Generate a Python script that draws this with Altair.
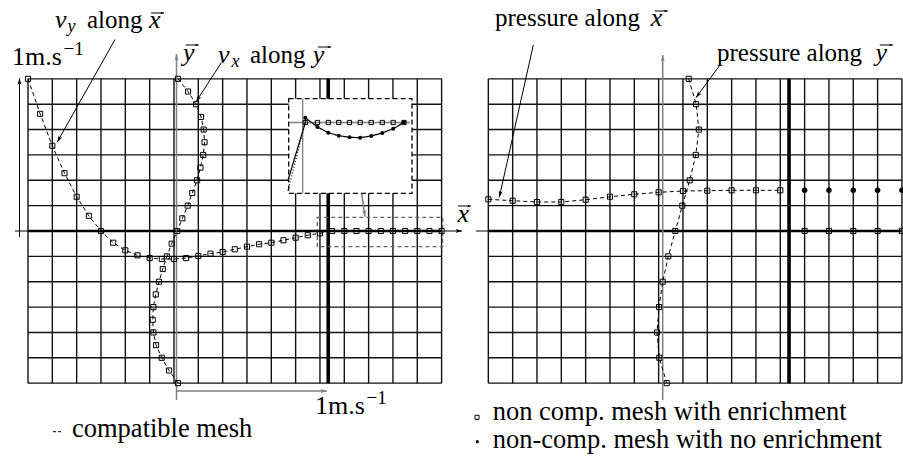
import math
import altair as alt
import pandas as pd

# ---------------- values ----------------
# Left panel: v_y sampled along x (positions in grid cells, values in m/s)
vy_x = [0, 0.5, 1, 1.5, 2, 2.5, 3, 3.5, 4, 4.5, 5, 5.5, 6, 6.5, 7, 7.5, 8, 8.5,
        9, 9.5, 10, 10.5, 11, 11.5, 12, 12.5, 13, 13.5, 14, 14.5, 15, 15.5, 16, 16.5, 17]
vy_val = [1.00, 0.77, 0.56, 0.38, 0.225, 0.10, 0.0, -0.077, -0.127, -0.16, -0.178,
          -0.184, -0.184, -0.178, -0.164, -0.149, -0.138, -0.12, -0.103, -0.087,
          -0.077, -0.061, -0.044, -0.028, -0.015, 0, 0, 0, 0, 0, 0, 0, 0, 0, 0]
# Left panel: v_x sampled along y (positions in grid cells, values in m/s)
vx_y = [6, 5.5, 5, 4.5, 4, 3.5, 3, 2.5, 2, 1.5, 1, 0.5, 0, -0.5, -1, -1.5, -2,
        -2.5, -3, -3.5, -4, -4.5, -5, -5.5, -6]
vx_val = [0.01, 0.079, 0.134, 0.168, 0.186, 0.192, 0.183, 0.164, 0.141, 0.108,
          0.077, 0.04, 0.005, -0.033, -0.066, -0.094, -0.12, -0.142, -0.158,
          -0.163, -0.158, -0.14, -0.101, -0.051, 0.01]
# Right panel: pressure along x (grid units)
px_x = [0, 1, 2, 3, 4, 5, 6, 7, 8, 9, 10, 11, 12]
px_val = [1.25, 1.195, 1.143, 1.143, 1.234, 1.352, 1.447, 1.526, 1.577, 1.589,
          1.605, 1.605, 1.605]
pr_x = [13, 14, 15, 16, 17]
pr_enr = [0, 0, 0, 0, 0]                       # non comp. mesh with enrichment
pr_non = [1.605, 1.605, 1.605, 1.605, 1.605]   # non-comp. mesh, no enrichment
# Right panel: pressure along y (grid units)
py_y = [6, 5, 4, 3, 2, 1, 0, -1, -2, -3, -4, -5, -6]
py_val = [1.069, 1.373, 1.484, 1.36, 1.11, 0.806, 0.518, 0.23, 0.0, -0.152,
          -0.234, -0.14, 0.164]
# Inset (zoom of v_y near the interface), grid units
ins_x = [11.397, 11.899, 12.343, 12.774, 13.214, 13.654, 14.107, 14.562, 15.01, 15.454]
ins_enr = [4.278, 4.278, 4.278, 4.278, 4.278, 4.278, 4.278, 4.278, 4.278, 4.278]
ins_non = [4.468, 4.101, 3.876, 3.758, 3.695, 3.679, 3.746, 3.864, 4.034, 4.286]

# ---------------- layout ----------------
W, H = 903, 462
CW, CH = 24.33, 25.36        # grid cell size (px)
X0, Y0 = 28, 231             # pixel of grid origin (left panel) / zero row
XR = 18.92                   # right panel offset (cells)
XA = 6.104                   # left y-axis position (cells)
XAR = XR + 7.168             # right y-axis position (cells)
K = 6.0                      # cells per m/s
FONT = "Liberation Serif"

XS = alt.Scale(domain=[-X0 / CW, (W - X0) / CW], nice=False, zero=False)
YS = alt.Scale(domain=[-(H - Y0) / CH, Y0 / CH], nice=False, zero=False)


def X(f="x"):
    return alt.X(f + ":Q", scale=XS, axis=None)


def Y(f="y"):
    return alt.Y(f + ":Q", scale=YS, axis=None)


def rules(segs, **kw):
    df = pd.DataFrame(segs, columns=["x", "y", "x2", "y2"])
    return alt.Chart(df).mark_rule(**kw).encode(
        x=X(), y=Y(), x2=alt.X2("x2:Q"), y2=alt.Y2("y2:Q"))


HEAD = "M0,0L-0.5,1.6L0,1.25L0.5,1.6Z"


def heads(segs, color, size=64):
    rows = []
    for x1, y1, x2, y2 in segs:
        dx = (x2 - x1) * CW
        dy = -(y2 - y1) * CH
        a = math.degrees(math.atan2(dx, -dy)) % 360
        rows.append(dict(x=x2, y=y2, a=a))
    return alt.Chart(pd.DataFrame(rows)).mark_point(
        shape=HEAD, filled=True, size=size, color=color, opacity=1, strokeWidth=0
    ).encode(x=X(), y=Y(), angle=alt.Angle("a:Q", scale=None))


def texts(rows, font=FONT, style="normal", align="left", baseline="alphabetic"):
    df = pd.DataFrame(rows, columns=["t", "x", "y", "s"])
    return alt.Chart(df).mark_text(
        font=font, fontStyle=style, align=align, baseline=baseline, color="black"
    ).encode(x=X(), y=Y(), text="t:N", size=alt.Size("s:Q", scale=None))


def squares(df, size=26):
    return alt.Chart(df).mark_point(
        shape="square", filled=False, size=size, color="black", strokeWidth=1, opacity=1
    ).encode(x=X(), y=Y())


def dots(df, size=26):
    return alt.Chart(df).mark_circle(size=size, color="black", opacity=1).encode(x=X(), y=Y())


def dline(df, dash=(4, 3), width=1.0):
    return alt.Chart(df).mark_line(
        color="black", strokeDash=list(dash), strokeWidth=width
    ).encode(x=X(), y=Y(), order=alt.Order("i:Q"))


# ---------------- data frames ----------------
vy_df = pd.DataFrame({"x": vy_x, "y": [v * K for v in vy_val]})
vy_df["i"] = range(len(vy_df))
vx_df = pd.DataFrame({"x": [XA + v * K for v in vx_val], "y": vx_y})
vx_df["i"] = range(len(vx_df))
px_df = pd.DataFrame({"x": [XR + p for p in px_x], "y": px_val})
px_df["i"] = range(len(px_df))
pe_df = pd.DataFrame({"x": [XR + p for p in pr_x], "y": pr_enr})
pn_df = pd.DataFrame({"x": [XR + p for p in pr_x], "y": pr_non})
py_df = pd.DataFrame({"x": [XAR + v for v in py_val], "y": py_y})
py_df["i"] = range(len(py_df))
ie_df = pd.DataFrame({"x": ins_x, "y": ins_enr})
in_df = pd.DataFrame({"x": [10.68, ins_x[0]] + ins_x,
                      "y": [1.98, ins_enr[0]] + ins_non})
in_df["i"] = range(len(in_df))
in_pts = pd.DataFrame({"x": ins_x, "y": ins_non})
idot = pd.DataFrame({"x": [10.68, ins_x[0]], "y": [1.58, ins_enr[0]], "i": [0, 1]})

# ---------------- grid ----------------
grid = []
for off in (0, XR):
    for k in range(18):
        grid.append((off + k, -6, off + k, 6))
    for r in range(-6, 7):
        grid.append((off, r, off + 17, r))

thick = [(12.34, -6, 12.34, 6), (XR + 12.36, -6, XR + 12.36, 6)]
zero = [(0, 0, 17, 0), (XR, 0, XR + 17, 0)]

black_arrows = [
    (-0.534, 0, 17.84, 0),            # x axis
    (-0.35, -0.24, -0.35, 6.02),      # 1 m/s vertical scale
    (3.576, 7.55, 1.204, 3.51),       # v_y along x
    (7.945, 6.636, 6.905, 5.099),     # v_x along y
    (20.769, 7.334, 19.371, 1.329),   # pressure along x
    (28.442, 6.546, 27.456, 5.256),   # pressure along y
]
gray_arrows = [
    (XA, -6.66, XA, 6.98),
    (XAR, -6.66, XAR, 6.94),
    (XA, -6.31, 12.29, -6.31),
    (13.715, 1.487, 13.85, 0.564),
]
thin_black = [(18.41, 0, XR, 0)]

# vector arrows over the letters x, y (centres in cells)
vec_centres = [(5.33, 8.596), (6.75, 7.334), (12.19, 7.256),
               (26.03, 8.675), (35.28, 7.334), (17.94, 0.986)]
HALF = 0.27
vec = [(cx - HALF, cy, cx + HALF, cy) for cx, cy in vec_centres]

layers = [
    rules(grid, color="#111111", strokeWidth=1.4),
    rules(thick, color="black", strokeWidth=3.6),
    rules(zero, color="black", strokeWidth=2.3),
    rules(black_arrows + thin_black, color="black", strokeWidth=1),
    rules(gray_arrows, color="#808080", strokeWidth=1.5),
    heads(black_arrows, "black"),
    heads(gray_arrows, "#808080"),
    # bottom dashed box
    alt.Chart(pd.DataFrame([dict(x=11.89, x2=17.045, y=-0.619, y2=0.54)])).mark_rect(
        fillOpacity=0, stroke="#666666", strokeDash=[4, 3], strokeWidth=1.3
    ).encode(x=X(), x2=alt.X2("x2:Q"), y=Y(), y2=alt.Y2("y2:Q")),
    # data
    dline(vy_df), squares(vy_df),
    dline(vx_df), squares(vx_df),
    dline(px_df), squares(px_df),
    squares(pe_df), dots(pn_df, size=30),
    dline(py_df), squares(py_df),
    # inset
    alt.Chart(pd.DataFrame([dict(x=10.715, x2=15.783, y=1.487, y2=5.217)])).mark_rect(
        fill="white", stroke="black", strokeDash=[5, 3], strokeWidth=1.3
    ).encode(x=X(), x2=alt.X2("x2:Q"), y=Y(), y2=alt.Y2("y2:Q")),
    rules([(11.29, 5.217, 11.29, 1.487), (10.74, 4.278, 15.70, 4.278)],
          color="#808080", strokeWidth=1.3),
    dline(in_df, dash=(1, 0), width=1.2),
    dline(idot, dash=(1, 2), width=1.2),
    squares(ie_df, size=18),
    dots(in_pts, size=16),
    # legend markers
    rules([(1.027, -7.914, 1.438, -7.914)], color="black", strokeWidth=1, strokeDash=[3, 2]),
    squares(pd.DataFrame({"x": [18.455], "y": [-7.346]}), size=16),
    dots(pd.DataFrame({"x": [18.467], "y": [-8.308]}), size=10),
    # vector arrows
    rules(vec, color="black", strokeWidth=1),
    heads(vec, "black", size=22),
    # texts
    texts([
        ("along", 2.425, 7.99, 25),
        ("1m.s", -0.658, 6.546, 26),
        ("\u22121", 1.459, 6.94, 19),
        ("along", 9.124, 6.62, 25),
        ("1m.s", 11.796, -7.228, 26),
        ("\u22121", 13.913, -6.822, 19),
        ("pressure along", 19.194, 8.083, 25),
        ("pressure along", 28.319, 6.703, 25),
        ("compatible mesh", 1.808, -8.123, 26.5),
        ("non comp. mesh with enrichment", 19.1, -7.465, 26.5),
        ("non-comp. mesh with no enrichment", 19.1, -8.557, 26.5),
    ]),
    texts([
        ("v", 1.11, 7.99, 26), ("y", 1.62, 7.83, 18), ("x", 4.97, 7.99, 26),
        ("y", 6.37, 6.70, 26),
        ("v", 7.81, 6.62, 26), ("x", 8.364, 6.467, 18), ("y", 11.70, 6.62, 26),
        ("x", 25.6, 8.083, 26),
        ("y", 34.83, 6.703, 26),
        ("x", 17.65, 0.355, 26),
    ], style="italic"),
]

chart = alt.layer(*layers).properties(
    width=W, height=H, padding=0, background="white",
    autosize=alt.AutoSizeParams(type="none"),
).configure_view(stroke=None)

chart.save("out.html", embed_options={"renderer": "svg", "actions": False})
